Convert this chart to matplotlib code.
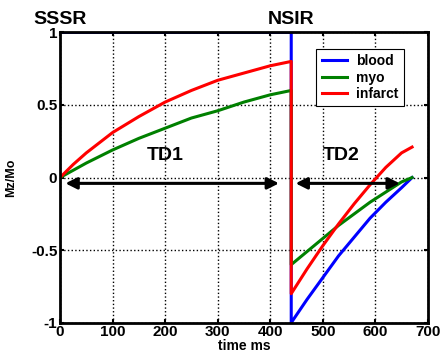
import numpy as np
import matplotlib.pyplot as plt

plt.rcParams['font.family'] = ['Liberation Sans', 'DejaVu Sans']
plt.rcParams['font.weight'] = 'bold'

# recovery before NSIR (t = 0..440 ms)
t1 = [0, 25, 50, 100, 150, 200, 250, 300, 350, 400, 440]
blood1 = [1, 1, 1, 1, 1, 1, 1, 1, 1, 1, 1]
myo1 = [0, 0.05, 0.10, 0.19, 0.27, 0.34, 0.41, 0.46, 0.52, 0.57, 0.60]
infarct1 = [0, 0.09, 0.17, 0.31, 0.42, 0.52, 0.60, 0.67, 0.72, 0.77, 0.80]

# recovery after NSIR (t = 440..670 ms)
t2 = [440, 470, 500, 530, 560, 590, 620, 650, 670]
blood2 = [-1, -0.84, -0.69, -0.54, -0.41, -0.28, -0.17, -0.07, 0.0]
myo2 = [-0.60, -0.51, -0.42, -0.33, -0.25, -0.17, -0.10, -0.03, 0.0]
infarct2 = [-0.80, -0.63, -0.47, -0.32, -0.18, -0.05, 0.07, 0.17, 0.21]

names = ['blood', 'myo', 'infarct']
colors = ['#0000ff', '#008000', '#ff0000']

xticks = [0, 100, 200, 300, 400, 500, 600, 700]
yticks = [-1, -0.5, 0, 0.5, 1]
yticklabels = ['-1', '-0.5', '0', '0.5', '1']

fig = plt.figure(figsize=(4.48, 3.56), dpi=100)
ax = fig.add_axes([0.134, 0.0935, 0.821, 0.8155])

for name, c, a, b in zip(names, colors, [blood1, myo1, infarct1], [blood2, myo2, infarct2]):
    ax.plot(t1 + t2, a + b, color=c, lw=2.2, label=name)

# TD arrows
ax.annotate('', xy=(5, -0.04), xytext=(422, -0.04),
            arrowprops=dict(arrowstyle='<|-|>', color='black', lw=2.2, mutation_scale=17))
ax.annotate('', xy=(443, -0.04), xytext=(652, -0.04),
            arrowprops=dict(arrowstyle='<|-|>', color='black', lw=2.2, mutation_scale=17))
ax.text(200, 0.15, 'TD1', fontsize=14, fontweight='bold', ha='center', va='center')
ax.text(535, 0.15, 'TD2', fontsize=14, fontweight='bold', ha='center', va='center')

ax.text(0, 1.03, 'SSSR', fontsize=14, fontweight='bold', ha='center', va='bottom')
ax.text(440, 1.03, 'NSIR', fontsize=14, fontweight='bold', ha='center', va='bottom')

ax.set_xlim(0, 700)
ax.set_ylim(-1, 1)
ax.set_xticks(xticks)
ax.set_yticks(yticks)
ax.set_yticklabels(yticklabels)
ax.tick_params(direction='in', length=3, width=1.5, labelsize=11, pad=2,
               top=True, right=True)
ax.grid(True, color='black', linestyle=':', lw=1)
for s in ax.spines.values():
    s.set_linewidth(2)

ax.set_xlabel('time ms', fontsize=10, fontweight='bold', labelpad=0)
ax.set_ylabel('Mz/Mo', fontsize=9, fontweight='bold', labelpad=10)

leg = ax.legend(loc='upper right', bbox_to_anchor=(0.935, 0.944), fontsize=10,
                fancybox=False, framealpha=1, edgecolor='black',
                handlelength=1.8, borderpad=0.4, labelspacing=0.17,
                handletextpad=0.65, borderaxespad=0)
leg.get_frame().set_linewidth(0.8)

fig.savefig('out.png', dpi=100)
